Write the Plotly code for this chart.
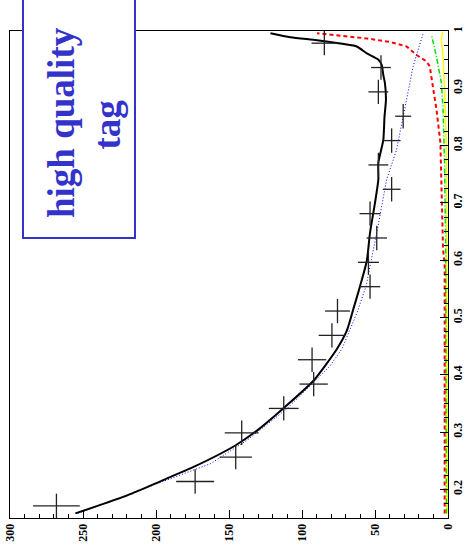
import plotly.graph_objects as go

# ---------------- data ----------------
# histogram points (bin centre on the discriminant axis, counts, errors)
bin_centres = [0.17125, 0.21375, 0.25625, 0.29875, 0.34125, 0.38375, 0.42625, 0.46875,
               0.51125, 0.55375, 0.59625, 0.63875, 0.68125, 0.72375, 0.76625, 0.80875,
               0.85125, 0.89375, 0.93625, 0.97875]
bin_half_width = [0.02125] * 20
counts = [268.2, 173.2, 145.4, 141.3, 112.5, 92.0, 93.1, 79.5, 75.7, 53.4,
          54.5, 48.8, 53.4, 38.6, 47.7, 38.6, 30.7, 47.7, 45.9, 84.7]
count_err = [16.0, 13.0, 11.1, 11.6, 10.2, 9.7, 9.7, 9.1, 8.5, 7.0,
             7.2, 7.0, 7.2, 6.1, 6.8, 6.1, 5.5, 6.8, 6.8, 8.8]

# total (black solid)
tot_x = [0.158, 0.190, 0.2145, 0.2395, 0.277, 0.303, 0.342, 0.390, 0.445, 0.477,
         0.515, 0.555, 0.599, 0.648, 0.700, 0.741, 0.770, 0.810, 0.850, 0.880, 0.909,
         0.923, 0.941, 0.950, 0.961, 0.973, 0.979, 0.984, 0.989, 0.996]
tot_y = [255.2, 219.3, 196.6, 173.9, 145.4, 130.6, 112.5, 92.0, 76.1, 69.3,
         64.8, 60.2, 55.6, 53.4, 50.0, 47.7, 47.7, 44.3, 43.5, 42.5, 43.2,
         44.3, 45.4, 47.7, 55.6, 62.5, 76.1, 89.7, 107.9, 121.6]

# blue dotted
blue_x = [0.158, 0.245, 0.286, 0.341, 0.416, 0.445, 0.509, 0.555, 0.648, 0.741,
          0.793, 0.880, 0.938, 0.967, 0.996]
blue_y = [253.4, 162.5, 137.5, 110.2, 80.6, 72.7, 62.2, 56.1, 48.8, 42.0,
          35.2, 28.4, 23.9, 20.5, 17.0]

# red dashed
red_x = [0.158, 0.590, 0.619, 0.764, 0.805, 0.863, 0.903, 0.938, 0.947, 0.958,
         0.973, 0.981, 0.987, 0.990, 0.996]
red_y = [2.3, 2.3, 3.4, 4.5, 5.2, 7.9, 10.6, 12.5, 14.7, 21.5,
         28.4, 39.7, 55.6, 67.0, 89.7]

# green dash-dot
green_x = [0.158, 0.532, 0.619, 0.764, 0.863, 0.909, 0.955, 0.993]
green_y = [1.1, 1.1, 1.6, 2.3, 3.4, 4.5, 7.9, 11.3]

# yellow solid
yellow_x = [0.158, 0.619, 0.793, 0.897, 0.955, 0.984, 0.999]
yellow_y = [0.5, 0.7, 1.1, 2.3, 3.4, 4.5, 3.8]

value_ticks = [0, 50, 100, 150, 200, 250, 300]
disc_ticks = [0.2, 0.3, 0.4, 0.5, 0.6, 0.7, 0.8, 0.9, 1.0]
disc_tick_labels = ["0.2", "0.3", "0.4", "0.5", "0.6", "0.7", "0.8", "0.9", "1"]
title_lines = ["high quality", "tag"]

# ---------------- figure ----------------
fig = go.Figure()

fig.add_trace(go.Scatter(x=yellow_y, y=yellow_x, mode="lines",
                         line=dict(color="#ffff00", width=1.5), hoverinfo="skip"))
fig.add_trace(go.Scatter(x=green_y, y=green_x, mode="lines",
                         line=dict(color="#00e000", width=1.5, dash="5px,2px,1px,2px"),
                         hoverinfo="skip"))
fig.add_trace(go.Scatter(x=red_y, y=red_x, mode="lines",
                         line=dict(color="#ff0000", width=2, dash="4px,3px"), hoverinfo="skip"))
fig.add_trace(go.Scatter(x=blue_y, y=blue_x, mode="lines",
                         line=dict(color="#0000ff", width=1, dash="1px,2px"), hoverinfo="skip"))
fig.add_trace(go.Scatter(x=tot_y, y=tot_x, mode="lines", line_shape="spline",
                         line=dict(color="#000000", width=2, smoothing=0.6), hoverinfo="skip"))
fig.add_trace(go.Scatter(
    x=counts, y=bin_centres, mode="markers",
    marker=dict(size=1, color="rgba(0,0,0,0)", opacity=0),
    error_x=dict(type="data", array=count_err, visible=True, width=0, thickness=1.3, color="#222"),
    error_y=dict(type="data", array=bin_half_width, visible=True, width=0, thickness=1.3, color="#222"),
    hoverinfo="skip"))

tickfont = dict(family="Liberation Serif", size=12, color="black", weight="bold")

fig.update_layout(
    width=465, height=551,
    margin=dict(l=10, r=17, t=31, b=33, autoexpand=False),
    paper_bgcolor="white", plot_bgcolor="white",
    showlegend=False,
    xaxis=dict(range=[300, 0], tickvals=value_ticks, tickangle=-90, automargin=False,
               ticks="inside", ticklen=8, tickcolor="black",
               minor=dict(dtick=10, ticks="inside", ticklen=4, tickcolor="black"),
               showgrid=False, zeroline=False, showline=True, linecolor="black",
               linewidth=1, mirror=True, tickfont=tickfont),
    yaxis=dict(range=[0.15, 1.0], side="right", tickvals=disc_ticks, automargin=False,
               ticktext=disc_tick_labels, tickangle=-90, ticklabelstandoff=-1,
               ticks="inside", ticklen=8, tickcolor="black",
               minor=dict(dtick=0.025, ticks="inside", ticklen=4, tickcolor="black"),
               showgrid=False, zeroline=False, showline=True, linecolor="black",
               linewidth=1, mirror=True, tickfont=tickfont),
)

# title box
fig.add_shape(type="rect", xref="paper", yref="paper",
              x0=(23 - 10) / 438, x1=(135 - 10) / 438,
              y0=(518 - 238) / 487, y1=1.1,
              line=dict(color="#3333cc", width=2), fillcolor="white", layer="above")

title_font = dict(family="Liberation Serif", size=37, color="#3333cc", weight="bold")
fig.add_annotation(xref="paper", yref="paper", x=(61.5 - 10) / 438, y=(518 - 122.5) / 487,
                   text=title_lines[0], textangle=-90, showarrow=False,
                   xanchor="center", yanchor="middle", font=title_font)
fig.add_annotation(xref="paper", yref="paper", x=(107.5 - 10) / 438, y=(518 - 125) / 487,
                   text=title_lines[1], textangle=-90, showarrow=False,
                   xanchor="center", yanchor="middle", font=title_font)

fig.write_html("out.html")
